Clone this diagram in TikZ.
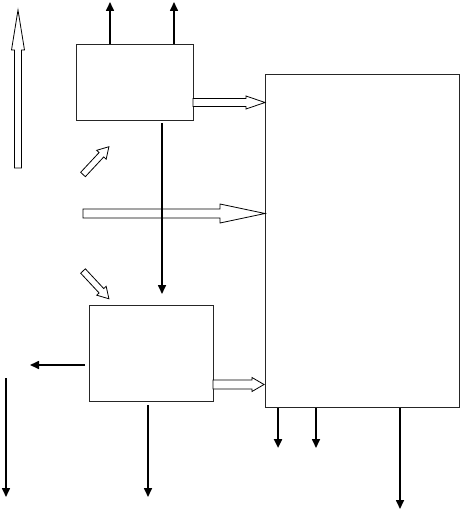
\documentclass[tikz,border=0pt]{standalone}
\usetikzlibrary{arrows.meta}
\newcommand\harrow[6]{\draw[hol,shift={#1},rotate=#2] (0,-#4) -- ({#3-#6},-#4) -- ({#3-#6},-#5) -- (#3,0) -- ({#3-#6},#5) -- ({#3-#6},#4) -- (0,#4) -- cycle;}
\begin{document}
\begin{tikzpicture}[x=1pt,y=-1pt,
  box/.style={draw=black!85,line width=0.9pt,inner sep=0pt,outer sep=0pt},
  hol/.style={draw=black,line width=0.8pt,fill=white,line join=miter},
  blk/.style={draw=black,line width=1.6pt,-{Triangle[length=9pt,width=8pt]}}]
\useasboundingbox (0,0) rectangle (460,511);
% boxes
\node[box,minimum width=117pt,minimum height=76pt] (A) at (134.5,82) {};
\node[box,minimum width=124pt,minimum height=96pt] (B) at (151,353) {};
\node[box,minimum width=194pt,minimum height=333pt] (C) at (362,240.5) {};
% hollow arrows
\harrow{(18,168)}{90}{158}{3.5}{6.5}{40}
\harrow{(83,174.5)}{47}{38}{3.2}{6.5}{11}
\harrow{(83,213.5)}{0}{182}{4.5}{9.5}{45}
\harrow{(83,271)}{-47}{38}{3.2}{6.5}{11}
\harrow{(A.east |- 0,102.5)}{0}{72}{4}{6.5}{19}
\harrow{(B.east |- 0,384.5)}{0}{51}{4.5}{7}{12}
% free ends
\coordinate (t1) at (110,2);
\coordinate (t2) at (174,2);
\coordinate (s1) at (162,123);
\coordinate (s2) at (162,294);
\coordinate (l1) at (30,365);
\coordinate (v1) at (6,378);
\coordinate (v2) at (6,497);
\coordinate (b1) at (148,497);
\coordinate (c1) at (278,448);
\coordinate (c2) at (316,448);
\coordinate (c3) at (400,509);
% black arrows
\draw[blk] (A.north -| t1) -- (t1);
\draw[blk] (A.north -| t2) -- (t2);
\draw[blk] (s1) -- (s2);
\draw[blk] ([xshift=-4pt]B.west |- l1) -- (l1);
\draw[blk] (v1) -- (v2);
\draw[blk] ([yshift=-4pt]B.south -| b1) -- (b1);
\draw[blk,line width=2.4pt] ([yshift=-1pt]C.south -| c1) -- (c1);
\draw[blk] ([yshift=-1pt]C.south -| c2) -- (c2);
\draw[blk] ([yshift=-1pt]C.south -| c3) -- (c3);
\end{tikzpicture}
\end{document}
